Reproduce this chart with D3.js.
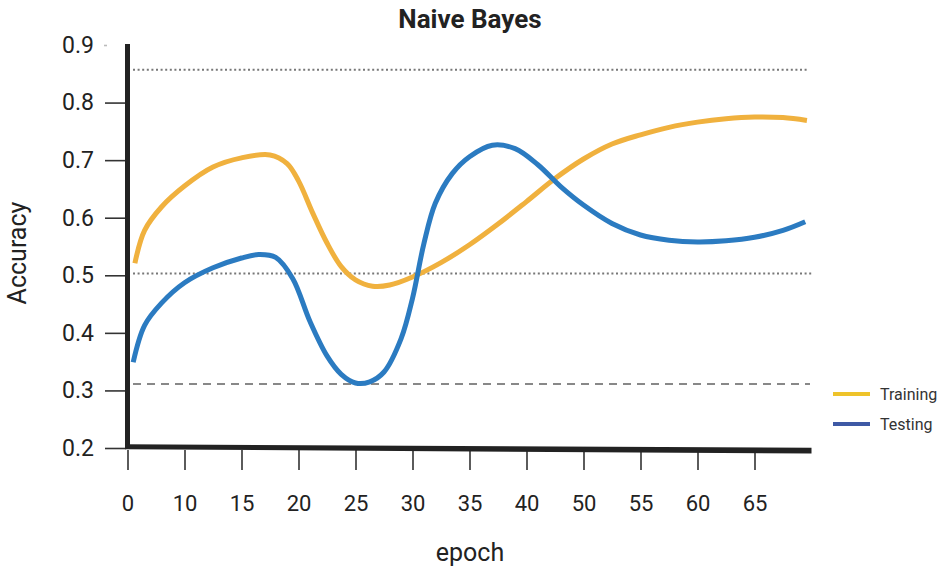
<!DOCTYPE html>
<html>
<head>
<meta charset="utf-8">
<script src="https://cdn.jsdelivr.net/npm/d3@7"></script>
<style>
  html, body { margin: 0; padding: 0; background: #fff; }
  svg { display: block; font-family: Roboto, "Noto Sans", sans-serif; }
</style>
</head>
<body>
<svg id="chart" width="950" height="574"></svg>
<script>
// ---- data ----
const tickLabels = ["0", "10", "15", "20", "25", "30", "35", "40", "50", "55", "60", "65"];
const yTicks = [0.2, 0.3, 0.4, 0.5, 0.6, 0.7, 0.8, 0.9];
// x positions are in tick-slot units (0 = first tick "0", 11 = last tick "65")
const trainX = [0.13, 0.3, 0.6, 1.0, 1.5, 2.0, 2.5, 2.8, 3.0, 3.25, 3.5, 3.75, 4.0, 4.3, 4.6, 5.0, 5.5, 6.0, 6.5, 7.0, 7.5, 8.0, 8.5, 9.0, 9.5, 10.0, 10.5, 11.0, 11.5, 11.92];
const trainY = [0.521, 0.578, 0.619, 0.655, 0.688, 0.704, 0.709, 0.694, 0.664, 0.608, 0.556, 0.515, 0.492, 0.481, 0.483, 0.497, 0.522, 0.553, 0.589, 0.628, 0.668, 0.702, 0.728, 0.744, 0.757, 0.766, 0.772, 0.775, 0.774, 0.769];
const testX = [0.10, 0.3, 0.6, 1.0, 1.5, 2.0, 2.3, 2.6, 2.9, 3.2, 3.5, 3.75, 4.0, 4.25, 4.5, 4.8, 5.0, 5.2, 5.4, 5.7, 6.0, 6.4, 6.8, 7.2, 7.6, 8.0, 8.5, 9.0, 9.5, 10.0, 10.5, 11.0, 11.5, 11.89];
const testY = [0.349, 0.413, 0.452, 0.487, 0.513, 0.530, 0.536, 0.531, 0.494, 0.420, 0.360, 0.328, 0.313, 0.315, 0.332, 0.390, 0.460, 0.555, 0.625, 0.677, 0.706, 0.726, 0.720, 0.692, 0.654, 0.622, 0.590, 0.570, 0.561, 0.558, 0.560, 0.566, 0.578, 0.593];
const refLines = [0.857, 0.503, 0.311];
const refStyles = ["dot", "dot", "dash"];
const seriesNames = ["Training", "Testing"];

// ---- chart ----
const svg = d3.select("#chart");
const x = d3.scaleLinear().domain([0, 12]).range([127.5, 811.5]);
const y = d3.scaleLinear().domain([0.2, 0.9]).range([448, 45]);

// title
svg.append("text").attr("x", 470).attr("y", 28).attr("text-anchor", "middle")
  .attr("font-size", 26).attr("font-weight", "bold").attr("fill", "#222").text("Naive Bayes");

// reference lines
refLines.forEach((v, i) => {
  svg.append("line")
    .attr("x1", 133).attr("x2", i === 0 ? 807 : (i === 1 ? 812 : 810))
    .attr("y1", y(v)).attr("y2", y(v))
    .attr("stroke", i === 2 ? "#888" : "#777")
    .attr("stroke-width", 2)
    .attr("stroke-dasharray", refStyles[i] === "dot" ? "2,2.6" : "8,6");
});

// y axis ticks and labels
const yAxis = d3.axisLeft(y).tickValues(yTicks).tickSize(21).tickPadding(11)
  .tickFormat(d3.format(".1f"));
const gy = svg.append("g").attr("transform", "translate(126,0)").call(yAxis);
gy.select(".domain").remove();
gy.selectAll(".tick line").attr("stroke", "#333").attr("stroke-width", 1.6);
gy.selectAll(".tick").filter(d => d === 0.9).select("line")
  .attr("x2", -19).attr("x1", -22).attr("stroke", "#bbb");
gy.selectAll(".tick text").attr("font-size", 23).attr("fill", "#222")
  .attr("font-family", "Roboto, sans-serif");

// x axis ticks and labels
const xAxis = d3.axisBottom(x).tickValues(d3.range(tickLabels.length))
  .tickFormat(i => tickLabels[i]).tickSize(20).tickPadding(25);
const gx = svg.append("g").attr("transform", "translate(0,450)").call(xAxis);
gx.select(".domain").remove();
gx.selectAll(".tick line").attr("stroke", "#333").attr("stroke-width", 1.6);
gx.selectAll(".tick text").attr("font-size", 22).attr("fill", "#222")
  .attr("font-family", "Roboto, sans-serif");

// main axis lines (thick)
svg.append("line").attr("x1", x(0)).attr("x2", x(0)).attr("y1", 44).attr("y2", 449)
  .attr("stroke", "#222").attr("stroke-width", 5);
svg.append("path")
  .attr("d", `M${x(0) - 2.5},444.3 L${x(12)},447.8 L${x(12)},453.6 L${x(0) - 2.5},449.2 Z`)
  .attr("fill", "#222");

// series lines
const line = d3.line().x(d => x(d[0])).y(d => y(d[1])).curve(d3.curveCatmullRom.alpha(0.5));
const trainData = trainX.map((v, i) => [v, trainY[i]]);
const testData = testX.map((v, i) => [v, testY[i]]);
svg.append("path").datum(trainData).attr("d", line)
  .attr("fill", "none").attr("stroke", "#F0B13E").attr("stroke-width", 5);
svg.append("path").datum(testData).attr("d", line)
  .attr("fill", "none").attr("stroke", "#2B7BC1").attr("stroke-width", 5);

// axis titles
svg.append("text").attr("transform", "translate(26,253) rotate(-90)")
  .attr("text-anchor", "middle").attr("font-size", 25).attr("fill", "#222")
  .text("Accuracy");
svg.append("text").attr("x", 470).attr("y", 561).attr("text-anchor", "middle")
  .attr("font-size", 25).attr("fill", "#222").text("epoch");

// legend
const legendColors = ["#EEC32A", "#3E59A5"];
seriesNames.forEach((n, i) => {
  const ly = 394 + i * 30;
  svg.append("line").attr("x1", 833).attr("x2", 870).attr("y1", ly).attr("y2", ly)
    .attr("stroke", legendColors[i]).attr("stroke-width", 4);
  svg.append("text").attr("x", 880).attr("y", ly).attr("dy", "0.35em")
    .attr("font-size", 16).attr("fill", "#333").text(n);
});
</script>
</body>
</html>
